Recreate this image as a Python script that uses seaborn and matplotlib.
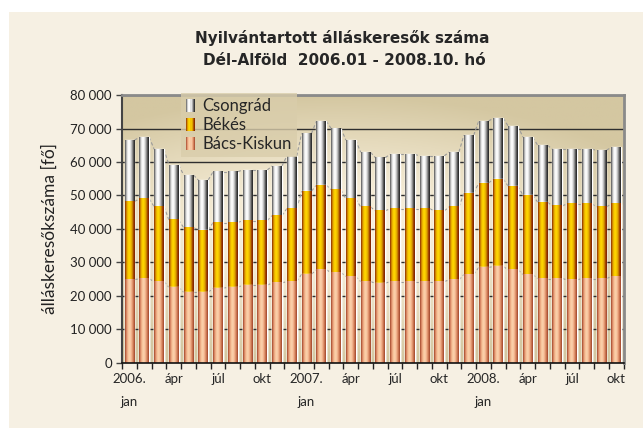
import numpy as np
import pandas as pd
import matplotlib
matplotlib.use("Agg")
import matplotlib.pyplot as plt
import seaborn as sns
from matplotlib.colors import LinearSegmentedColormap
from matplotlib.legend_handler import HandlerBase
from matplotlib.patches import Rectangle

# --- adatok (2006.01 - 2008.10), fő ---
honapok = [f"{ev}.{ho:02d}" for ev in (2006, 2007, 2008) for ho in range(1, 13)][:34]
bacs_kiskun = [24900, 25100, 24300, 22600, 21100, 21100, 22300, 22600, 23200, 23200, 23900, 24300,
               26500, 27800, 27000, 25800, 24300, 23800, 24300, 24300, 24300, 24300, 24800, 26400,
               28500, 28800, 27800, 26400, 25200, 25200, 24800, 25200, 25200, 25800]
bekes = [23300, 23900, 22400, 20100, 19300, 18600, 19600, 19300, 19300, 19300, 20100, 21800,
         24800, 25300, 24700, 23200, 22300, 21600, 21800, 21800, 21800, 21100, 21800, 24300,
         25200, 26100, 25000, 23700, 22800, 21700, 22700, 22300, 21400, 21700]
csongrad = [18300, 18400, 17100, 16400, 15700, 14900, 15200, 15200, 15100, 15100, 14800, 15700,
            17200, 19100, 18300, 17500, 16300, 15900, 16200, 16200, 15700, 16400, 16400, 17300,
            18500, 18200, 17900, 17300, 17000, 16900, 16300, 16300, 16900, 16900]
tick_feliratok = ["2006.\njan", "ápr", "júl", "okt", "2007.\njan", "ápr", "júl", "okt",
                  "2008.\njan", "ápr", "júl", "okt"]

df = pd.DataFrame({"honap": honapok, "bk": bacs_kiskun, "bekes": bekes, "csongrad": csongrad})
df["szint1"] = df["bk"]
df["szint2"] = df["bk"] + df["bekes"]
df["szint3"] = df["szint2"] + df["csongrad"]

# hengeres színátmenetek
cm_cs = LinearSegmentedColormap.from_list("cs", ["#505050", "#b8b8b8", "#f6f6f6", "#ffffff", "#e2e2e2",
                                                 "#a4a4a4", "#555555", "#202020"])
cm_be = LinearSegmentedColormap.from_list("be", ["#8a2800", "#d08800", "#f6c400", "#ffd900", "#f2c200",
                                                 "#d99a00", "#a24200", "#7a1e00"])
cm_bk = LinearSegmentedColormap.from_list("bk", ["#a2462a", "#e29470", "#f8c59c", "#fcd3ae", "#f2b18a",
                                                 "#d07c57", "#a0452a"])

sns.set_style("white")
plt.rcParams["font.family"] = ["Lato", "DejaVu Sans"]

fig = plt.figure(figsize=(6.43, 4.28), dpi=100)
fig.patch.set_facecolor("white")
fig.patches.append(Rectangle((9 / 643, 0), 1, 1 - 12 / 428, transform=fig.transFigure,
                             facecolor="#f6f0e3", edgecolor="none", zorder=-10))
ax = fig.add_axes([0.190, 0.152, 0.780, 0.626])

# háttér színátmenet
yy, xx = np.mgrid[0:1:200j, 0:1:300j]
r = np.sqrt(((xx - 0.42) / 0.72) ** 2 + ((yy - 0.5) / 0.5) ** 2)
bg_cmap = LinearSegmentedColormap.from_list("bg", ["#fbf1dc", "#f4ebd5", "#e5dabc", "#d4c7a1"])
ax.imshow(np.clip(r, 0, 1), cmap=bg_cmap, extent=[0, 1, 0, 1], transform=ax.transAxes,
          aspect="auto", zorder=0, origin="lower")

szelesseg = 0.66
retegek = [("szint3", cm_cs, "Csongrád"), ("szint2", cm_be, "Békés"), ("szint1", cm_bk, "Bács-Kiskun")]
grad = np.linspace(0, 1, 64).reshape(1, -1)
for k, (oszlop, cmap, nev) in enumerate(retegek):
    n_elotte = len(ax.patches)
    sns.barplot(data=df, x="honap", y=oszlop, order=honapok, color=cmap(0.5), width=szelesseg,
                errorbar=None, ax=ax, zorder=2 + k * 0.1)
    for p in ax.patches[n_elotte:]:
        x0, y0, w, h = p.get_x(), p.get_y(), p.get_width(), p.get_height()
        ax.imshow(grad, cmap=cmap, extent=[x0, x0 + w, y0, y0 + h], aspect="auto",
                  zorder=2 + k * 0.1 + 0.05)

# sorozatvonalak (szaggatott összekötők)
for oszlop in ("szint1", "szint2", "szint3"):
    v = df[oszlop].to_numpy()
    for i in range(len(v) - 1):
        ax.plot([i + szelesseg / 2, i + 1 - szelesseg / 2], [v[i], v[i + 1]], color="#9a9a9a",
                lw=0.8, ls=(0, (3, 2)), zorder=1.9)

ax.set_xlim(-0.5, len(honapok) - 0.5)
ax.set_ylim(0, 80000)
ax.set_yticks(np.arange(0, 80001, 10000))
ax.set_yticklabels([f"{v:,}".replace(",", " ") for v in range(0, 80001, 10000)])
ax.yaxis.grid(True, color="#2e2e2e", lw=1.0)
ax.set_axisbelow(True)
ax.grid(False, axis="x")

ax.set_xticks(np.arange(-0.5, len(honapok), 1.0))
ax.set_xticklabels([])
ax.set_xticks(np.arange(0, len(honapok), 3), minor=True)
ax.set_xticklabels(tick_feliratok, minor=True, fontsize=9.5, linespacing=2.15, va="top")
ax.tick_params(axis="x", which="major", direction="out", length=4, width=1, color="#222222", bottom=True)
ax.tick_params(axis="x", which="minor", length=0, pad=7)
ax.tick_params(axis="y", direction="out", length=4, width=1, color="#444444", left=True,
               labelsize=9.5, labelcolor="#222222")
ax.set_xlabel("")
ax.set_ylabel("álláskeresőkszáma [fő]", fontsize=12.5, labelpad=9, color="#222222")

for s in ("top", "right"):
    ax.spines[s].set_color("#8a8a8a")
    ax.spines[s].set_linewidth(2)
ax.spines["left"].set_color("#444444")
ax.spines["left"].set_linewidth(1.5)
ax.spines["bottom"].set_color("#111111")
ax.spines["bottom"].set_linewidth(1.2)


class HengerJel(HandlerBase):
    def __init__(self, cmap):
        super().__init__()
        self.cmap = cmap

    def create_artists(self, legend, orig_handle, xdescent, ydescent, width, height, fontsize, trans):
        n = 8
        return [Rectangle((-xdescent + i * width / n, -ydescent), width / n, height,
                          facecolor=self.cmap((i + 0.5) / n), edgecolor="none", transform=trans)
                for i in range(n)]


jelek = [Rectangle((0, 0), 1, 1) for _ in retegek]
leg = ax.legend(jelek, [r[2] for r in retegek],
                handler_map={j: HengerJel(r[1]) for j, r in zip(jelek, retegek)},
                loc="upper left", bbox_to_anchor=(0.112, 1.015), borderaxespad=0.15, frameon=True,
                fontsize=12, handlelength=0.55, handleheight=0.8, handletextpad=0.45, labelspacing=0.18,
                borderpad=0.3, fancybox=False)
leg.get_frame().set_facecolor("#d9cdab")
leg.get_frame().set_edgecolor("none")
leg.set_zorder(5)

fig.text(0.533, 0.912, "Nyilvántartott álláskeresők száma", ha="center", va="center",
         fontsize=11, fontweight="bold", family="DejaVu Sans")
fig.text(0.535, 0.858, "Dél-Alföld  2006.01 - 2008.10. hó", ha="center", va="center",
         fontsize=11, fontweight="bold", family="DejaVu Sans")

fig.savefig("out.png", dpi=100, facecolor=fig.get_facecolor())
